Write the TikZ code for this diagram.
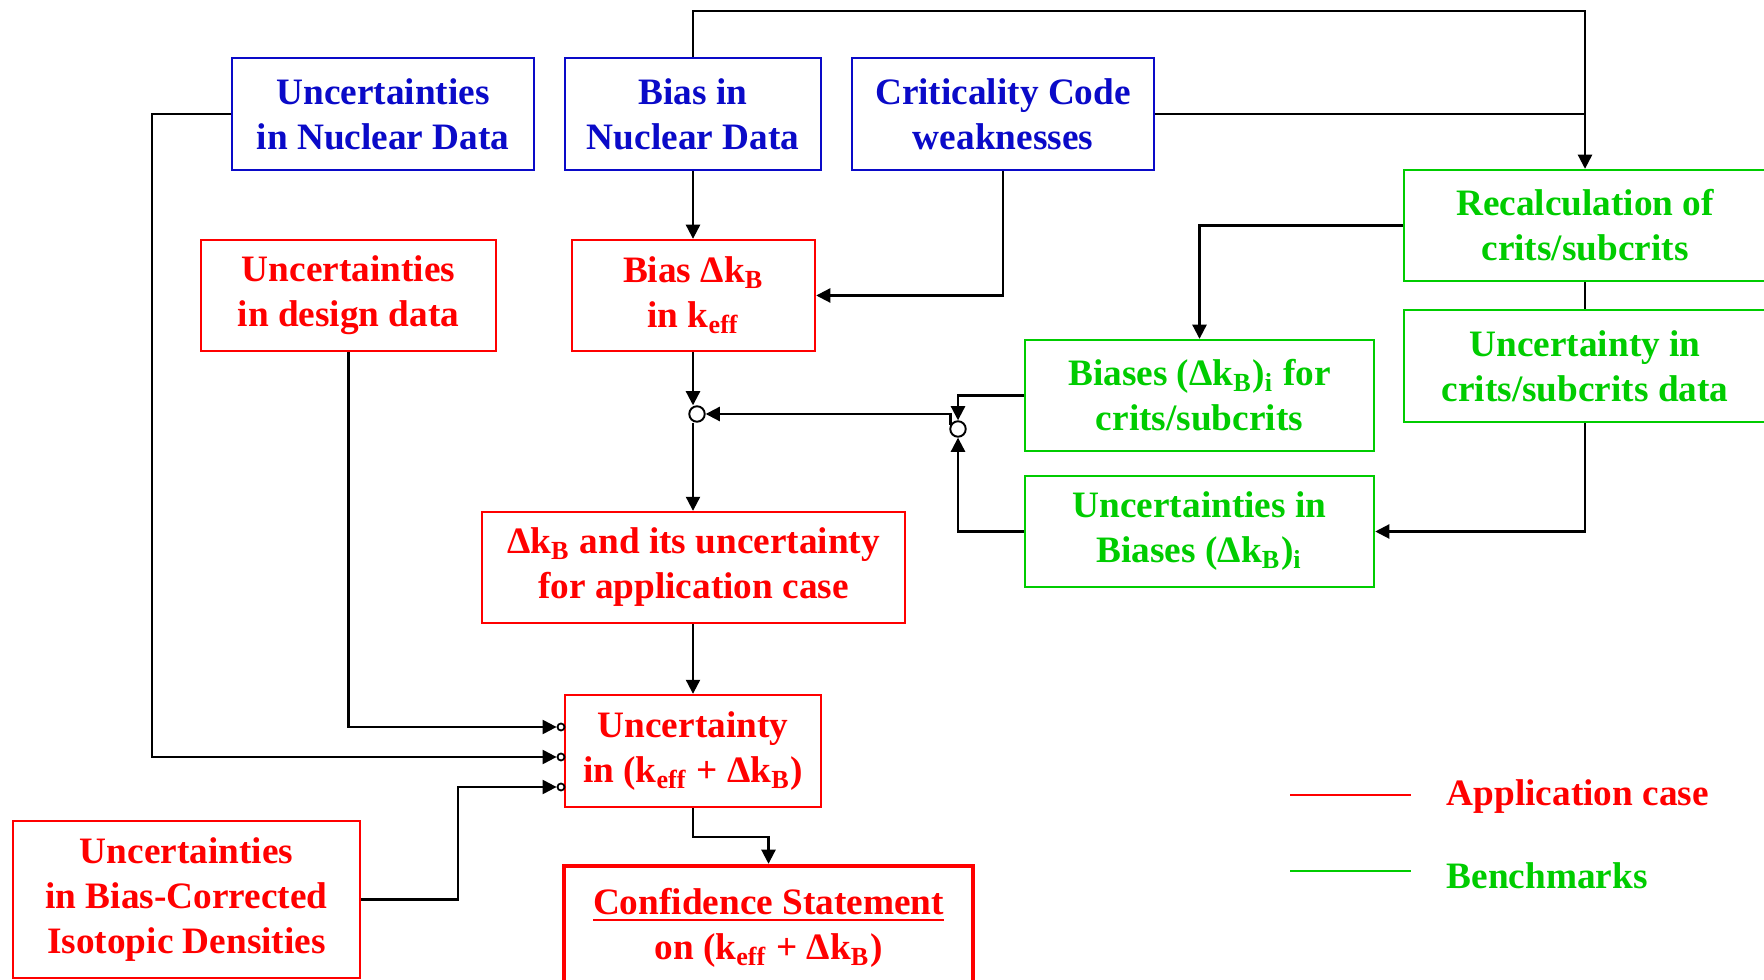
\documentclass[tikz,border=0pt]{standalone}
\usepackage{fontspec}
\setmainfont{Liberation Serif}
\usetikzlibrary{arrows.meta,calc}
\definecolor{cblue}{RGB}{10,10,200}
\definecolor{cred}{RGB}{255,0,0}
\definecolor{cgreen}{RGB}{0,204,0}
\begin{document}
\begin{tikzpicture}[x=0.01cm,y=-0.01cm,
  box/.style={draw,rectangle,line width=0.65pt,align=center,inner sep=0pt,
    font=\fontsize{10.6}{12.8}\selectfont\bfseries},
  bluebox/.style={box,draw=cblue,text=cblue},
  redbox/.style={box,draw=cred,text=cred},
  greenbox/.style={box,draw=cgreen,text=cgreen},
  conn/.style={line width=0.6pt,draw=black},
  arr/.style={conn,-{Triangle[length=4pt,width=4pt]}},
  jc/.style={circle,draw=black,line width=0.55pt,fill=white,minimum size=4.4pt,inner sep=0pt},
  sc/.style={circle,draw=black,line width=0.5pt,fill=white,minimum size=2pt,inner sep=0pt},
  legtext/.style={anchor=west,inner sep=0pt,font=\fontsize{10.6}{12.8}\selectfont\bfseries}]
\useasboundingbox (0,0) rectangle (1764,980);

% blue boxes
\node[bluebox,minimum width=3.02cm,minimum height=1.12cm] (uncnd) at (383,114) {Uncertainties\\in Nuclear Data};
\node[bluebox,minimum width=2.56cm,minimum height=1.12cm] (biasnd) at (693,114) {Bias in\\Nuclear Data};
\node[bluebox,minimum width=3.02cm,minimum height=1.12cm] (crit) at (1003,114) {Criticality Code\\weaknesses};

% red boxes
\node[redbox,minimum width=2.95cm,minimum height=1.11cm] (uncdd) at (348.5,295.5) {Uncertainties\\in design data};
\node[redbox,minimum width=2.43cm,minimum height=1.11cm] (biasdk) at (693.5,295.5) {Bias Δk\textsubscript{B}\\in k\textsubscript{eff}};
\node[redbox,minimum width=4.23cm,minimum height=1.11cm] (dkunc) at (693.5,567.5) {Δk\textsubscript{B} and its uncertainty\\for application case};
\node[redbox,minimum width=2.56cm,minimum height=1.12cm] (unckeff) at (693,751) {Uncertainty\\in (k\textsubscript{eff} + Δk\textsubscript{B})};
\node[redbox,line width=1.25pt,minimum width=4.09cm,minimum height=1.24cm] (conf) at (768.5,928) {\underline{Confidence Statement}\\on (k\textsubscript{eff} + Δk\textsubscript{B})};
\node[redbox,minimum width=3.47cm,minimum height=1.57cm] (uncbc) at (186.5,899.5) {Uncertainties\\in Bias-Corrected\\Isotopic Densities};

% green boxes
\node[greenbox,minimum width=3.62cm,minimum height=1.11cm] (recalc) at (1585,225.5) {Recalculation of\\crits/subcrits};
\node[greenbox,minimum width=3.62cm,minimum height=1.12cm] (unccrit) at (1585,366) {Uncertainty in\\crits/subcrits data};
\node[greenbox,minimum width=3.49cm,minimum height=1.11cm] (biasesi) at (1199.5,395.5) {Biases (Δk\textsubscript{B})\textsubscript{i} for\\crits/subcrits};
\node[greenbox,minimum width=3.49cm,minimum height=1.11cm] (uncbiases) at (1199.5,531.5) {Uncertainties in\\Biases (Δk\textsubscript{B})\textsubscript{i}};

% junction circles
\node[jc] (jl) at (697,414) {};
\node[jc] (jr) at (958,429) {};
% small input circles
\node[sc] (c1) at (561,727) {};
\node[sc] (c2) at (561,757) {};
\node[sc] (c3) at (561,787) {};

% coordinates
\coordinate (topy) at (0,11);
\coordinate (lx) at (152,0);
\coordinate (bcx) at (458,0);
\coordinate (vx) at (693,0);
\coordinate (cfy) at (0,837);

% connectors
\draw[arr] (biasnd.north) |- (topy -| recalc.north) -- (recalc.north);
\draw[conn] (crit.east) -- (crit.east -| recalc.north);
\draw[arr] (biasnd.south) -- (biasdk.north -| biasnd.south);
\draw[arr] (crit.south) |- (biasdk.east);
\draw[arr] (biasdk.south -| vx) -- (jl.north -| vx);
\draw[arr] (jl.south -| vx) -- (dkunc.north -| vx);
\draw[arr] (jr.150) |- (jl.east);
\draw[arr] (biasesi.west) -| (jr.north);
\draw[arr] (uncbiases.west) -| (jr.south);
\draw[arr] (recalc.west) -| (biasesi.north);
\draw[conn] (recalc.south) -- (unccrit.north);
\draw[arr] (unccrit.south) |- (uncbiases.east);
\draw[arr] (dkunc.south -| vx) -- (unckeff.north);
\draw[arr] (unckeff.south) |- (cfy -| conf.north) -- (conf.north);
\draw[arr] (uncdd.south) |- (c1.west);
\draw[arr] (uncnd.west) -- (uncnd.west -| lx) |- (c2.west);
\draw[arr] (uncbc.east) -- (uncbc.east -| bcx) |- (c3.west);

% legend
\coordinate (l1a) at (1290,795);
\coordinate (l1b) at (1411,795);
\coordinate (l2a) at (1290,871);
\coordinate (l2b) at (1411,871);
\draw[cred,line width=0.65pt] (l1a) -- (l1b);
\draw[cgreen,line width=0.65pt] (l2a) -- (l2b);
\node[legtext,text=cred] (lapp) at (1446,797) {Application case};
\node[legtext,text=cgreen] (lbench) at (1446,876) {Benchmarks};
\end{tikzpicture}
\end{document}
